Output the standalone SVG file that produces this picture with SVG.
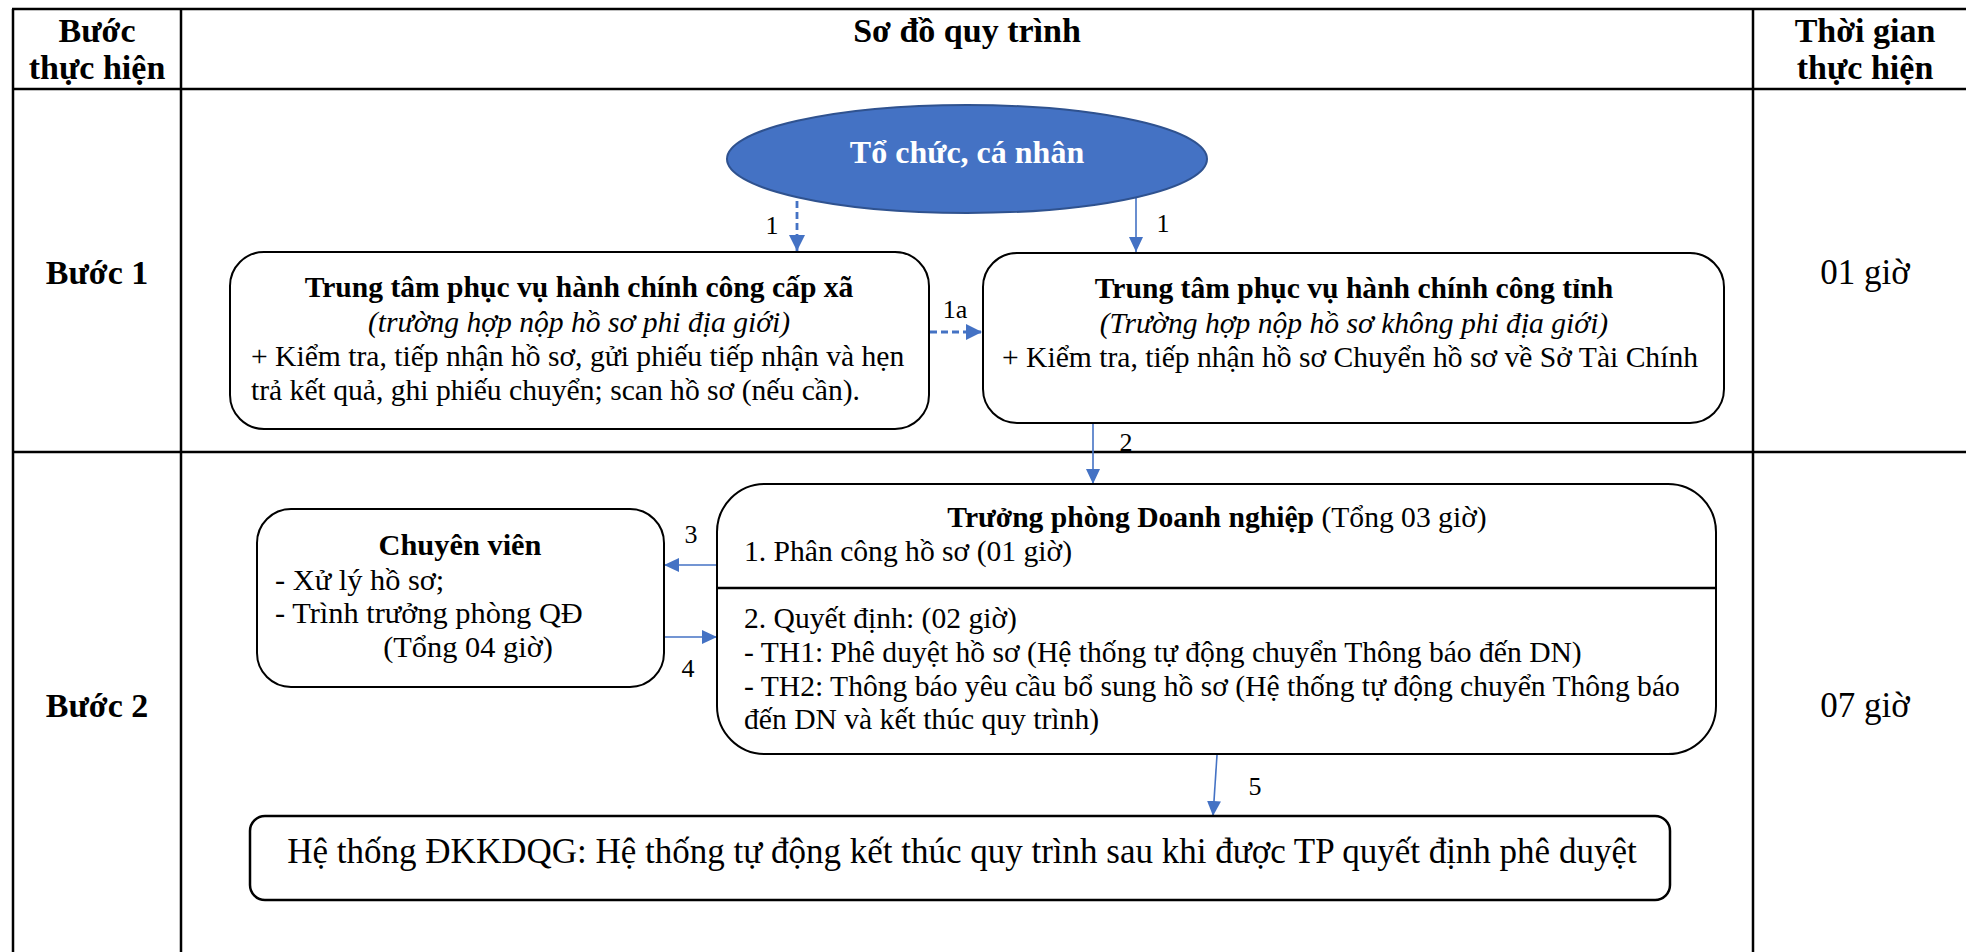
<svg xmlns="http://www.w3.org/2000/svg" width="1966" height="952" viewBox="0 0 1966 952">
<defs>
<style>
text{font-family:"Liberation Serif","Times New Roman",serif;fill:#000}
.hd{font-size:34px;font-weight:bold;text-anchor:middle}
.step{font-size:34px;font-weight:bold;text-anchor:middle}
.time{font-size:35px;text-anchor:middle}
.t{font-size:29.6px}
.c{font-size:30.4px}
.b{font-weight:bold}
.i{font-style:italic}
.m{text-anchor:middle}
.lbl{font-size:26px;text-anchor:middle}
.grid{stroke:#000;stroke-width:2.5;fill:none}
.box{fill:#fff;stroke:#000;stroke-width:2}
.con{stroke:#4472C4;stroke-width:1.6;fill:none;marker-end:url(#ah)}
.dash{stroke:#4472C4;stroke-width:2.8;fill:none;stroke-dasharray:7 4;marker-end:url(#ahb)}
</style>
<marker id="ah" markerUnits="userSpaceOnUse" markerWidth="16" markerHeight="14" refX="15" refY="7" orient="auto">
<path d="M0,0 L15,7 L0,14 z" fill="#4472C4"/>
</marker>
<marker id="ahb" markerUnits="userSpaceOnUse" markerWidth="17" markerHeight="17" refX="16" refY="8" orient="auto">
<path d="M0,0 L16,8 L0,16 z" fill="#4472C4"/>
</marker>
</defs>
<g id="table">
<line class="grid" x1="12" y1="9" x2="1966" y2="9"/>
<line class="grid" x1="12" y1="89" x2="1966" y2="89"/>
<line class="grid" x1="12" y1="452" x2="1966" y2="452"/>
<line class="grid" x1="13" y1="9" x2="13" y2="952"/>
<line class="grid" x1="181" y1="9" x2="181" y2="952"/>
<line class="grid" x1="1753" y1="9" x2="1753" y2="952"/>
<text class="hd" x="97" y="42">Bước</text>
<text class="hd" x="97" y="79">thực hiện</text>
<text class="hd" x="967" y="42">Sơ đồ quy trình</text>
<text class="hd" x="1865" y="42">Thời gian</text>
<text class="hd" x="1865" y="79">thực hiện</text>
<text class="step" x="97" y="284">Bước 1</text>
<text class="time" x="1865" y="284">01 giờ</text>
<text class="step" x="97" y="717">Bước 2</text>
<text class="time" x="1865" y="717">07 giờ</text>
</g>
<g id="connectors">
<line class="dash" x1="797" y1="201" x2="797" y2="251"/>
<line class="con" x1="1136" y1="198" x2="1136" y2="252"/>
<line class="dash" x1="930" y1="332" x2="982" y2="332"/>
<line class="con" x1="1093" y1="424" x2="1093" y2="484"/>
<line class="con" x1="717" y1="565" x2="664" y2="565"/>
<line class="con" x1="664" y1="637" x2="717" y2="637"/>
<line class="con" x1="1217" y1="755" x2="1213" y2="816"/>
<text class="lbl" x="772" y="234">1</text>
<text class="lbl" x="1163" y="232">1</text>
<text class="lbl" x="955" y="318">1a</text>
<text class="lbl" x="1126" y="451">2</text>
<text class="lbl" x="691" y="543">3</text>
<text class="lbl" x="688" y="677">4</text>
<text class="lbl" x="1255" y="795">5</text>
</g>
<g id="to-chuc-ca-nhan">
<ellipse cx="967" cy="159" rx="240" ry="54" fill="#4472C4" stroke="#2F528F" stroke-width="2"/>
<text x="967" y="163" style="font-size:32px;font-weight:bold;text-anchor:middle;fill:#fff">Tổ chức, cá nhân</text>
</g>
<g id="tt-cap-xa">
<rect class="box" x="230" y="252" width="699" height="177" rx="34" ry="34"/>
<text class="t b m" x="579" y="297">Trung tâm phục vụ hành chính công cấp xã</text>
<text class="t i m" x="579" y="332">(trường hợp nộp hồ sơ phi địa giới)</text>
<text class="t" x="251" y="366">+ Kiểm tra, tiếp nhận hồ sơ, gửi phiếu tiếp nhận và hẹn</text>
<text class="t" x="251" y="400">trả kết quả, ghi phiếu chuyển; scan hồ sơ (nếu cần).</text>
</g>
<g id="tt-tinh">
<rect class="box" x="983" y="253" width="741" height="170" rx="34" ry="34"/>
<text class="t b m" x="1354" y="298">Trung tâm phục vụ hành chính công tỉnh</text>
<text class="t i m" x="1354" y="333">(Trường hợp nộp hồ sơ không phi địa giới)</text>
<text class="t m" x="1350" y="367">+ Kiểm tra, tiếp nhận hồ sơ Chuyển hồ sơ về Sở Tài Chính</text>
</g>
<g id="chuyen-vien">
<rect class="box" x="257" y="509" width="407" height="178" rx="34" ry="34"/>
<text class="c b m" x="460" y="555">Chuyên viên</text>
<text class="c" x="275" y="590">- Xử lý hồ sơ;</text>
<text class="c" x="275" y="623">- Trình trưởng phòng QĐ</text>
<text class="c m" x="468" y="657">(Tổng 04 giờ)</text>
</g>
<g id="truong-phong">
<rect class="box" x="717" y="484" width="999" height="270" rx="48" ry="48"/>
<line x1="717" y1="588" x2="1716" y2="588" stroke="#000" stroke-width="2.5"/>
<text class="t m" x="1217" y="527"><tspan class="b">Trưởng phòng Doanh nghiệp</tspan> (Tổng 03 giờ)</text>
<text class="t" x="744" y="561">1. Phân công hồ sơ (01 giờ)</text>
<text class="t" x="744" y="628">2. Quyết định: (02 giờ)</text>
<text class="t" x="744" y="662">- TH1: Phê duyệt hồ sơ (Hệ thống tự động chuyển Thông báo đến DN)</text>
<text class="t" x="744" y="696">- TH2: Thông báo yêu cầu bổ sung hồ sơ (Hệ thống tự động chuyển Thông báo</text>
<text class="t" x="744" y="729">đến DN và kết thúc quy trình)</text>
</g>
<g id="he-thong">
<rect class="box" x="250" y="816" width="1420" height="84" rx="15" ry="15" style="stroke-width:2.5"/>
<text class="m" x="962" y="863" style="font-size:35px">Hệ thống ĐKKDQG: Hệ thống tự động kết thúc quy trình sau khi được TP quyết định phê duyệt</text>
</g>
</svg>
